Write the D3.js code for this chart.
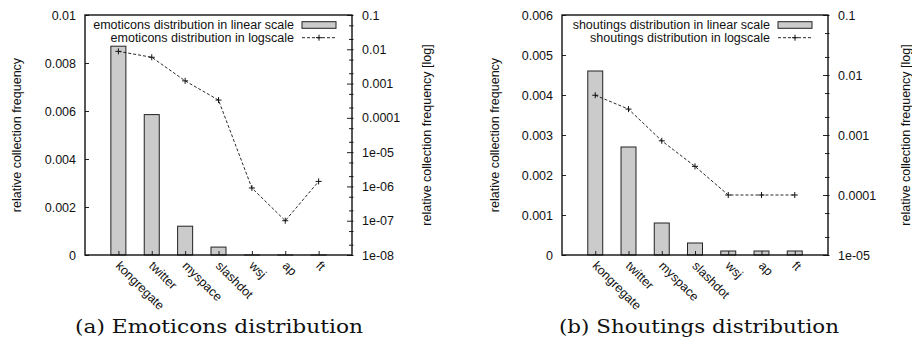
<!DOCTYPE html>
<html>
<head>
<meta charset="utf-8">
<script src="https://cdn.jsdelivr.net/npm/d3@7"></script>
<style>
  body { margin: 0; background: #fff; }
  svg { display: block; }
  text { font-family: "Liberation Sans", Arial, sans-serif; fill: #111; }
</style>
</head>
<body>
<script>
var width = 912,
    height = 352;

// data
var categories = ["kongregate", "twitter", "myspace", "slashdot", "wsj", "ap", "ft"];
var emoticonsFreq = [0.0087, 0.00585, 0.0012, 0.00033, 9e-7, 1e-7, 1.4e-6];
var shoutingsFreq = [0.0046, 0.0027, 0.0008, 0.0003, 0.0001, 0.0001, 0.0001];

var emoticonsLinTicks = [0, 0.002, 0.004, 0.006, 0.008, 0.01];
var emoticonsLinLabels = ["0", "0.002", "0.004", "0.006", "0.008", "0.01"];
var emoticonsLogTicks = [1e-8, 1e-7, 1e-6, 1e-5, 1e-4, 1e-3, 1e-2, 1e-1];
var emoticonsLogLabels = ["1e-08", "1e-07", "1e-06", "1e-05", "0.0001", "0.001", "0.01", "0.1"];

var shoutingsLinTicks = [0, 0.001, 0.002, 0.003, 0.004, 0.005, 0.006];
var shoutingsLinLabels = ["0", "0.001", "0.002", "0.003", "0.004", "0.005", "0.006"];
var shoutingsLogTicks = [1e-5, 1e-4, 1e-3, 1e-2, 1e-1];
var shoutingsLogLabels = ["1e-05", "0.0001", "0.001", "0.01", "0.1"];

var svg = d3.select("body").append("svg")
            .attr("width", width)
            .attr("height", height);

// minor log ticks at 2x and 5x of each decade
function minorTicks(majors) {
  var out = [];
  majors.forEach(function(m, i) {
    if (i < majors.length - 1) { out.push(m * 2); out.push(m * 5); }
  });
  return out;
}

function drawPanel(p) {
  var g = svg.append("g");
  var left = p.left, right = p.right, top = 15, bottom = 255;

  var x = d3.scalePoint().domain(categories).range([left, right]).padding(1);
  var y = d3.scaleLinear().domain([0, p.linMax]).range([bottom, top]);
  var y2 = d3.scaleLog().domain([p.logTicks[0], p.logTicks[p.logTicks.length - 1]]).range([bottom, top]);
  var barW = x.step() * 0.45;

  // bars
  g.selectAll("rect.bar")
    .data(p.values)
    .enter().append("rect")
    .attr("class", "bar")
    .attr("x", function(d, i) { return x(categories[i]) - barW / 2; })
    .attr("y", function(d) { return y(d); })
    .attr("width", barW)
    .attr("height", function(d) { return bottom - y(d); })
    .attr("fill", "#cbcbcb")
    .attr("stroke", "#222")
    .attr("stroke-width", 1);

  // log line
  var line = d3.line()
    .x(function(d, i) { return x(categories[i]); })
    .y(function(d) { return y2(d); });

  g.append("path")
    .datum(p.values)
    .attr("d", line)
    .attr("fill", "none")
    .attr("stroke", "#111")
    .attr("stroke-width", 0.9)
    .attr("stroke-dasharray", "3,2");

  function plus(sel, cx, cy) {
    sel.append("path")
      .attr("d", "M" + (cx - 3) + "," + cy + "H" + (cx + 3) + "M" + cx + "," + (cy - 3) + "V" + (cy + 3))
      .attr("stroke", "#111")
      .attr("stroke-width", 1);
  }
  p.values.forEach(function(d, i) { plus(g, x(categories[i]), y2(d)); });

  // left axis
  var axL = g.append("g")
    .attr("transform", "translate(" + left + ",0)")
    .call(d3.axisLeft(y).tickValues(p.linTicks)
      .tickFormat(function(d, i) { return p.linLabels[i]; })
      .tickSizeInner(-4).tickSizeOuter(0).tickPadding(9));

  // right log axis
  var axR = g.append("g")
    .attr("transform", "translate(" + right + ",0)")
    .call(d3.axisRight(y2).tickValues(p.logTicks)
      .tickFormat(function(d, i) { return p.logLabels[i]; })
      .tickSizeInner(-5).tickSizeOuter(0).tickPadding(10));
  axR.selectAll(".tick line").attr("x2", -5).attr("x1", 1.5);

  var axRm = g.append("g")
    .attr("transform", "translate(" + right + ",0)")
    .call(d3.axisRight(y2).tickValues(minorTicks(p.logTicks))
      .tickFormat("").tickSizeInner(-3).tickSizeOuter(0));
  axRm.selectAll(".tick line").attr("x1", 1.5);

  // bottom axis
  var axB = g.append("g")
    .attr("transform", "translate(0," + bottom + ")")
    .call(d3.axisBottom(x).tickSizeInner(-4).tickSizeOuter(0).tickFormat(""));

  [axL, axR, axRm, axB].forEach(function(a) {
    a.select(".domain").remove();
    a.selectAll(".tick line").attr("stroke", "#222").attr("stroke-width", 1);
    a.selectAll("text").attr("font-size", "12.5px").attr("fill", "#111");
  });

  // rotated category labels
  g.selectAll("text.cat")
    .data(categories)
    .enter().append("text")
    .attr("class", "cat")
    .attr("transform", function(d) { return "translate(" + (x(d) - 3.4) + "," + (bottom + 11.5) + ")rotate(45)"; })
    .attr("font-size", "12.5px")
    .text(function(d) { return d; });

  // frame
  g.append("rect")
    .attr("x", left).attr("y", top)
    .attr("width", right - left).attr("height", bottom - top)
    .attr("fill", "none")
    .attr("stroke", "#111")
    .attr("stroke-width", 1.4);

  // axis titles
  g.append("text")
    .attr("transform", "translate(" + p.titleL + "," + ((top + bottom) / 2) + ")rotate(-90)")
    .attr("text-anchor", "middle")
    .attr("font-size", "12.5px")
    .text("relative collection frequency");
  g.append("text")
    .attr("transform", "translate(" + p.titleR + "," + ((top + bottom) / 2) + ")rotate(-90)")
    .attr("text-anchor", "middle")
    .attr("font-size", "12.5px")
    .text("relative collection frequency [log]");

  // legend
  var row1 = 25, row2 = 37.7;
  g.append("text")
    .attr("x", right - 58).attr("y", row1).attr("dy", "0.35em")
    .attr("text-anchor", "end").attr("font-size", "12.5px")
    .text(p.name + " distribution in linear scale");
  g.append("text")
    .attr("x", right - 58).attr("y", row2).attr("dy", "0.35em")
    .attr("text-anchor", "end").attr("font-size", "12.5px")
    .text(p.name + " distribution in logscale");
  g.append("rect")
    .attr("x", right - 50).attr("y", row1 - 3.3)
    .attr("width", 34).attr("height", 6.6)
    .attr("fill", "#cbcbcb").attr("stroke", "#222").attr("stroke-width", 1);
  g.append("line")
    .attr("x1", right - 50).attr("x2", right - 16)
    .attr("y1", row2).attr("y2", row2)
    .attr("stroke", "#111").attr("stroke-width", 0.9)
    .attr("stroke-dasharray", "3,2");
  plus(g, right - 33, row2);

  // caption
  g.append("text")
    .attr("x", p.capX).attr("y", 333)
    .attr("text-anchor", "middle")
    .style("font-family", "'DejaVu Serif', 'Liberation Serif', serif")
    .attr("font-size", "19px")
    .attr("textLength", p.capW)
    .attr("lengthAdjust", "spacingAndGlyphs")
    .text(p.caption);
}

drawPanel({
  left: 85, right: 352, name: "emoticons", values: emoticonsFreq,
  linMax: 0.01, linTicks: emoticonsLinTicks, linLabels: emoticonsLinLabels,
  logTicks: emoticonsLogTicks, logLabels: emoticonsLogLabels,
  titleL: 20.5, titleR: 430.5,
  caption: "(a) Emoticons distribution", capX: 219, capW: 288
});

drawPanel({
  left: 562, right: 828, name: "shoutings", values: shoutingsFreq,
  linMax: 0.006, linTicks: shoutingsLinTicks, linLabels: shoutingsLinLabels,
  logTicks: shoutingsLogTicks, logLabels: shoutingsLogLabels,
  titleL: 498.5, titleR: 910,
  caption: "(b) Shoutings distribution", capX: 699, capW: 280
});
</script>
</body>
</html>
